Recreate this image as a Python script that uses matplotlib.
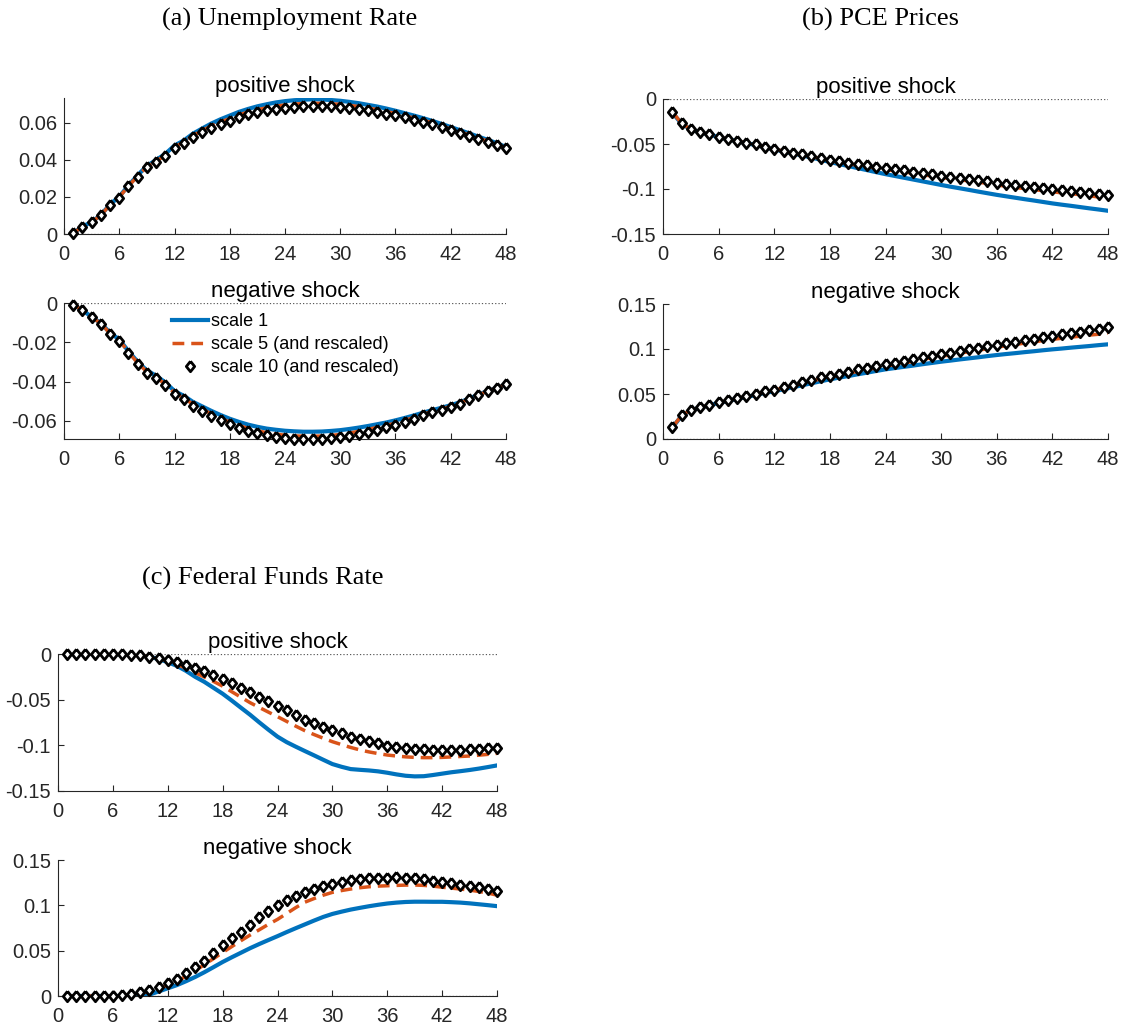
import numpy as np
import matplotlib
matplotlib.use("Agg")
import matplotlib.pyplot as plt
from matplotlib.ticker import FuncFormatter

# ---- data ----
months = np.arange(1, 49)

# (a) unemployment rate
ur_pos_s1 = [0.0005, 0.0040, 0.0065, 0.0103, 0.0160, 0.0202, 0.0262, 0.0318, 0.0368, 0.0400,
             0.0433, 0.0478, 0.0505, 0.0542, 0.0570, 0.0597, 0.0620, 0.0640, 0.0660, 0.0676,
             0.0690, 0.0701, 0.0711, 0.0718, 0.0723, 0.0726, 0.0728, 0.0727, 0.0724, 0.0720,
             0.0714, 0.0707, 0.0698, 0.0689, 0.0678, 0.0666, 0.0653, 0.0640, 0.0626, 0.0611,
             0.0595, 0.0578, 0.0561, 0.0544, 0.0526, 0.0509, 0.0491, 0.0470]
ur_pos_s5 = [0.0004, 0.0040, 0.0064, 0.0101, 0.0158, 0.0199, 0.0259, 0.0313, 0.0363, 0.0393,
             0.0425, 0.0470, 0.0496, 0.0531, 0.0558, 0.0584, 0.0606, 0.0623, 0.0643, 0.0660,
             0.0672, 0.0682, 0.0691, 0.0697, 0.0702, 0.0705, 0.0706, 0.0706, 0.0703, 0.0701,
             0.0695, 0.0689, 0.0680, 0.0673, 0.0661, 0.0652, 0.0639, 0.0627, 0.0615, 0.0600,
             0.0584, 0.0567, 0.0550, 0.0536, 0.0518, 0.0502, 0.0487, 0.0463]
ur_pos_s10 = [0.0004, 0.0040, 0.0063, 0.0100, 0.0157, 0.0197, 0.0257, 0.0310, 0.0360, 0.0389,
              0.0420, 0.0465, 0.0490, 0.0524, 0.0550, 0.0575, 0.0597, 0.0613, 0.0633, 0.0650,
              0.0660, 0.0669, 0.0678, 0.0683, 0.0687, 0.0690, 0.0692, 0.0692, 0.0690, 0.0689,
              0.0683, 0.0678, 0.0669, 0.0662, 0.0650, 0.0642, 0.0630, 0.0618, 0.0607, 0.0593,
              0.0577, 0.0560, 0.0544, 0.0531, 0.0513, 0.0497, 0.0483, 0.0463]

ur_neg_s1 = [-0.0008, -0.0036, -0.0071, -0.0102, -0.0152, -0.0185, -0.0245, -0.0299, -0.0343, -0.0370,
             -0.0404, -0.0448, -0.0472, -0.0503, -0.0526, -0.0549, -0.0570, -0.0589, -0.0605, -0.0619,
             -0.0630, -0.0639, -0.0645, -0.0650, -0.0653, -0.0655, -0.0655, -0.0654, -0.0651, -0.0647,
             -0.0641, -0.0634, -0.0626, -0.0617, -0.0608, -0.0597, -0.0585, -0.0572, -0.0558, -0.0545,
             -0.0533, -0.0520, -0.0505, -0.0486, -0.0467, -0.0447, -0.0431, -0.0414]
ur_neg_s5 = [-0.0008, -0.0037, -0.0072, -0.0104, -0.0155, -0.0189, -0.0250, -0.0305, -0.0350, -0.0378,
             -0.0413, -0.0458, -0.0483, -0.0515, -0.0540, -0.0564, -0.0586, -0.0606, -0.0623, -0.0638,
             -0.0650, -0.0660, -0.0667, -0.0673, -0.0676, -0.0678, -0.0678, -0.0677, -0.0674, -0.0669,
             -0.0662, -0.0653, -0.0643, -0.0633, -0.0623, -0.0611, -0.0597, -0.0583, -0.0566, -0.0552,
             -0.0540, -0.0526, -0.0509, -0.0488, -0.0469, -0.0448, -0.0431, -0.0414]
ur_neg_s10 = [-0.0008, -0.0037, -0.0073, -0.0105, -0.0157, -0.0191, -0.0253, -0.0309, -0.0355, -0.0383,
              -0.0419, -0.0465, -0.0490, -0.0524, -0.0549, -0.0574, -0.0596, -0.0617, -0.0635, -0.0650,
              -0.0664, -0.0674, -0.0682, -0.0688, -0.0691, -0.0693, -0.0694, -0.0693, -0.0689, -0.0684,
              -0.0676, -0.0666, -0.0655, -0.0644, -0.0633, -0.0620, -0.0605, -0.0590, -0.0571, -0.0557,
              -0.0544, -0.0529, -0.0512, -0.0490, -0.0470, -0.0448, -0.0431, -0.0414]

# (b) PCE prices
pce_pos_s1 = [-0.0150, -0.0275, -0.0337, -0.0373, -0.0395, -0.0423, -0.0448, -0.0469, -0.0491, -0.0512,
              -0.0537, -0.0560, -0.0583, -0.0605, -0.0627, -0.0650, -0.0675, -0.0700, -0.0723, -0.0745,
              -0.0768, -0.0790, -0.0813, -0.0835, -0.0855, -0.0875, -0.0895, -0.0915, -0.0935, -0.0955,
              -0.0974, -0.0992, -0.1010, -0.1029, -0.1047, -0.1065, -0.1081, -0.1097, -0.1113, -0.1128,
              -0.1144, -0.1160, -0.1174, -0.1187, -0.1201, -0.1215, -0.1228, -0.1242]
pce_pos_s5 = [-0.0142, -0.0272, -0.0335, -0.0372, -0.0391, -0.0421, -0.0446, -0.0466, -0.0488, -0.0507,
              -0.0533, -0.0556, -0.0578, -0.0600, -0.0620, -0.0639, -0.0662, -0.0688, -0.0702, -0.0720,
              -0.0736, -0.0751, -0.0770, -0.0786, -0.0797, -0.0810, -0.0826, -0.0841, -0.0856, -0.0872,
              -0.0884, -0.0898, -0.0910, -0.0924, -0.0938, -0.0955, -0.0969, -0.0983, -0.0995, -0.1007,
              -0.1018, -0.1030, -0.1043, -0.1052, -0.1063, -0.1076, -0.1089, -0.1103]
pce_pos_s10 = [-0.0141, -0.0270, -0.0333, -0.0370, -0.0389, -0.0419, -0.0444, -0.0463, -0.0485, -0.0504,
               -0.0530, -0.0552, -0.0574, -0.0596, -0.0615, -0.0633, -0.0655, -0.0675, -0.0693, -0.0710,
               -0.0725, -0.0738, -0.0755, -0.0767, -0.0778, -0.0791, -0.0807, -0.0822, -0.0837, -0.0852,
               -0.0863, -0.0876, -0.0887, -0.0900, -0.0913, -0.0928, -0.0942, -0.0956, -0.0967, -0.0978,
               -0.0987, -0.0998, -0.1011, -0.1018, -0.1028, -0.1040, -0.1051, -0.1063]

pce_neg_s1 = [0.0125, 0.0258, 0.0322, 0.0348, 0.0376, 0.0400, 0.0422, 0.0448, 0.0465, 0.0490,
              0.0512, 0.0530, 0.0553, 0.0575, 0.0597, 0.0619, 0.0641, 0.0663, 0.0682, 0.0700,
              0.0719, 0.0737, 0.0756, 0.0774, 0.0788, 0.0802, 0.0816, 0.0831, 0.0845, 0.0859,
              0.0871, 0.0884, 0.0896, 0.0908, 0.0921, 0.0933, 0.0944, 0.0954, 0.0965, 0.0975,
              0.0986, 0.0996, 0.1005, 0.1015, 0.1024, 0.1033, 0.1043, 0.1052]
pce_neg_s5 = [0.0128, 0.0261, 0.0324, 0.0350, 0.0379, 0.0404, 0.0427, 0.0455, 0.0470, 0.0499,
              0.0524, 0.0542, 0.0570, 0.0594, 0.0621, 0.0640, 0.0669, 0.0688, 0.0708, 0.0728,
              0.0752, 0.0770, 0.0790, 0.0809, 0.0827, 0.0845, 0.0862, 0.0884, 0.0903, 0.0920,
              0.0934, 0.0954, 0.0970, 0.0988, 0.1002, 0.1020, 0.1036, 0.1049, 0.1066, 0.1079,
              0.1094, 0.1107, 0.1119, 0.1132, 0.1142, 0.1155, 0.1164, 0.1176]
pce_neg_s10 = [0.0130, 0.0263, 0.0326, 0.0352, 0.0381, 0.0407, 0.0430, 0.0459, 0.0474, 0.0504,
               0.0530, 0.0548, 0.0578, 0.0604, 0.0633, 0.0652, 0.0685, 0.0704, 0.0726, 0.0748,
               0.0774, 0.0793, 0.0811, 0.0830, 0.0848, 0.0867, 0.0885, 0.0907, 0.0926, 0.0941,
               0.0956, 0.0978, 0.0996, 0.1015, 0.1030, 0.1048, 0.1067, 0.1081, 0.1100, 0.1115,
               0.1133, 0.1148, 0.1163, 0.1178, 0.1189, 0.1207, 0.1219, 0.1241]

# (c) federal funds rate
ffr_pos_s1 = [0.0, 0.0, 0.0, 0.0, -0.0001, -0.0002, -0.0004, -0.0007, -0.0013, -0.0030,
              -0.0055, -0.0090, -0.0130, -0.0185, -0.0250, -0.0305, -0.0370, -0.0435, -0.0510, -0.0588,
              -0.0665, -0.0748, -0.0828, -0.0905, -0.0965, -0.1015, -0.1063, -0.1110, -0.1158, -0.1205,
              -0.1235, -0.1260, -0.1268, -0.1275, -0.1285, -0.1300, -0.1318, -0.1333, -0.1340, -0.1338,
              -0.1325, -0.1310, -0.1295, -0.1283, -0.1270, -0.1255, -0.1238, -0.1220]
ffr_pos_s5 = [0.0, 0.0, 0.0, 0.0, -0.0001, -0.0003, -0.0005, -0.0008, -0.0014, -0.0030,
              -0.0048, -0.0075, -0.0113, -0.0157, -0.0205, -0.0252, -0.0300, -0.0352, -0.0413, -0.0473,
              -0.0533, -0.0585, -0.0636, -0.0686, -0.0738, -0.0790, -0.0840, -0.0882, -0.0922, -0.0960,
              -0.0992, -0.1023, -0.1050, -0.1072, -0.1090, -0.1106, -0.1117, -0.1126, -0.1132, -0.1135,
              -0.1135, -0.1132, -0.1127, -0.1122, -0.1117, -0.1108, -0.1099, -0.1088]
ffr_pos_s10 = [0.0, 0.0, 0.0, 0.0, -0.0001, -0.0003, -0.0005, -0.0008, -0.0014, -0.0030,
               -0.0044, -0.0068, -0.0092, -0.0121, -0.0154, -0.0191, -0.0227, -0.0276, -0.0319, -0.0367,
               -0.0415, -0.0466, -0.0513, -0.0567, -0.0614, -0.0664, -0.0722, -0.0752, -0.0796, -0.0832,
               -0.0869, -0.0906, -0.0934, -0.0957, -0.0979, -0.1003, -0.1016, -0.1030, -0.1040, -0.1045,
               -0.1049, -0.1052, -0.1052, -0.1049, -0.1045, -0.1045, -0.1034, -0.1025]

ffr_neg_s1 = [0.0, 0.0, 0.0, 0.0, 0.0, 0.0, 0.0, 0.0, 0.0005, 0.0015,
              0.0050, 0.0085, 0.0120, 0.0163, 0.0210, 0.0262, 0.0318, 0.0375, 0.0427, 0.0477,
              0.0527, 0.0573, 0.0617, 0.0660, 0.0705, 0.0748, 0.0790, 0.0832, 0.0872, 0.0905,
              0.0930, 0.0953, 0.0972, 0.0990, 0.1006, 0.1020, 0.1030, 0.1037, 0.1040, 0.1040,
              0.1039, 0.1039, 0.1035, 0.1030, 0.1022, 0.1012, 0.1002, 0.0991]
ffr_neg_s5 = [0.0, 0.0, 0.0, 0.0, 0.0, 0.0, 0.0008, 0.0018, 0.0030, 0.0052,
              0.0085, 0.0120, 0.0163, 0.0218, 0.0280, 0.0345, 0.0412, 0.0480, 0.0545, 0.0610,
              0.0672, 0.0730, 0.0790, 0.0845, 0.0910, 0.0975, 0.1035, 0.1075, 0.1112, 0.1143,
              0.1163, 0.1180, 0.1194, 0.1205, 0.1212, 0.1216, 0.1220, 0.1223, 0.1224, 0.1220,
              0.1212, 0.1200, 0.1190, 0.1180, 0.1168, 0.1153, 0.1135, 0.1113]
ffr_neg_s10 = [0.0, 0.0, 0.0, 0.0, 0.0, 0.0, 0.0010, 0.0022, 0.0040, 0.0062,
               0.0100, 0.0140, 0.0190, 0.0250, 0.0315, 0.0390, 0.0474, 0.0562, 0.0645, 0.0708,
               0.0787, 0.0868, 0.0942, 0.1000, 0.1060, 0.1108, 0.1152, 0.1183, 0.1213, 0.1240,
               0.1262, 0.1280, 0.1293, 0.1297, 0.1297, 0.1305, 0.1308, 0.1305, 0.1297, 0.1286,
               0.1272, 0.1258, 0.1244, 0.1228, 0.1214, 0.1198, 0.1183, 0.1162]

legend_labels = ["scale 1", "scale 5 (and rescaled)", "scale 10 (and rescaled)"]
xticks = np.arange(0, 49, 6)

# ---- style ----
plt.rcParams.update({
    "font.family": ["Liberation Sans", "DejaVu Sans"],
    "axes.unicode_minus": False,
    "lines.scale_dashes": True,
})
BLUE = "#0072BD"
ORANGE = "#D95319"
TXT = "#262626"
DIAMOND = [(0, 1), (0.8, 0), (0, -1), (-0.8, 0), (0, 1)]

W, H = 1128, 1028
fig = plt.figure(figsize=(W / 100, H / 100), dpi=100)


def panel(l, t, r, b, s1, s5, s10, ylim, yticks, title, legend=False):
    ax = fig.add_axes([l / W, 1 - b / H, (r - l) / W, (b - t) / H])
    ax.axhline(0, color="0.35", linestyle=":", lw=0.9, zorder=1)
    ax.plot(months, s1, color=BLUE, lw=3.0, zorder=2, label=legend_labels[0])
    ax.plot(months, s5, color=ORANGE, lw=2.5, dashes=(3.4, 2.0), zorder=3,
            label=legend_labels[1])
    ax.plot(months, s10, linestyle="none", marker=DIAMOND, markersize=7.5,
            mfc="white", mec="black", mew=2.0, zorder=4, clip_on=False,
            label=legend_labels[2])
    ax.set_xlim(0, 48)
    ax.set_ylim(*ylim)
    ax.set_xticks(xticks)
    ax.set_yticks(yticks)
    ax.yaxis.set_major_formatter(FuncFormatter(lambda v, p: "%g" % round(v, 4)))
    for s in ["top", "right"]:
        ax.spines[s].set_visible(False)
    for s in ["left", "bottom"]:
        ax.spines[s].set_color(TXT)
        ax.spines[s].set_linewidth(0.8)
    ax.tick_params(direction="in", length=4, width=0.8, colors=TXT,
                   labelsize=14.5)
    ax.tick_params(axis="x", pad=8)
    ax.tick_params(axis="y", pad=5)
    ax.set_title(title, fontsize=16, color="black", pad=4)
    if legend:
        ax.legend(loc="upper left", bbox_to_anchor=(0.245, 0.925), frameon=False,
                  fontsize=13, handlelength=2.0, handletextpad=0.15,
                  labelspacing=0.33, borderaxespad=0, borderpad=0)
    return ax


# (a)
panel(64, 98, 506, 234, ur_pos_s1, ur_pos_s5, ur_pos_s10,
      (0, 0.0735), [0, 0.02, 0.04, 0.06], "positive shock")
panel(64, 303, 506, 439, ur_neg_s1, ur_neg_s5, ur_neg_s10,
      (-0.0692, 0), [-0.06, -0.04, -0.02, 0], "negative shock", legend=True)
# (b)
panel(663, 99, 1108, 234, pce_pos_s1, pce_pos_s5, pce_pos_s10,
      (-0.15, 0), [-0.15, -0.1, -0.05, 0], "positive shock")
panel(663, 304, 1108, 439, pce_neg_s1, pce_neg_s5, pce_neg_s10,
      (0, 0.15), [0, 0.05, 0.1, 0.15], "negative shock")
# (c)
panel(58, 654, 497, 791, ffr_pos_s1, ffr_pos_s5, ffr_pos_s10,
      (-0.15, 0), [-0.15, -0.1, -0.05, 0], "positive shock")
panel(58, 860, 497, 996, ffr_neg_s1, ffr_neg_s5, ffr_neg_s10,
      (0, 0.15), [0, 0.05, 0.1, 0.15], "negative shock")

serif = ["Liberation Serif", "DejaVu Serif"]
fig.text(290 / W, 1 - 19 / H, "(a) Unemployment Rate", family=serif, fontsize=19,
         ha="center", va="center")
fig.text(880 / W, 1 - 19 / H, "(b) PCE Prices", family=serif, fontsize=19,
         ha="center", va="center")
fig.text(263 / W, 1 - 578 / H, "(c) Federal Funds Rate", family=serif, fontsize=19,
         ha="center", va="center")

fig.savefig("out.png", dpi=100, facecolor="white")
